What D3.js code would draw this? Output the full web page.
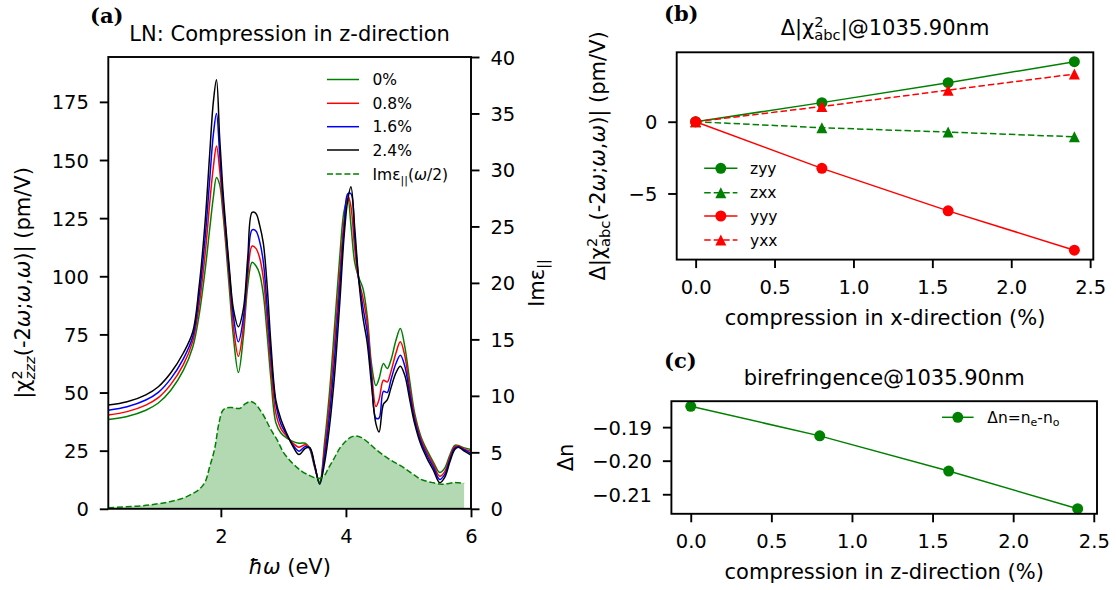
<!DOCTYPE html>
<html>
<head>
<meta charset="utf-8">
<script src="https://cdn.jsdelivr.net/npm/d3@7"></script>
<style>
body { margin: 0; background: #fff; }
svg text { font-family: 'DejaVu Sans', sans-serif; fill: #000; }
</style>
</head>
<body>
<svg id="chart" width="1116" height="590"></svg>
<script>
// (a) |chi2_zzz| for the four strains, on one energy grid (eV)
var energy = [0.2, 0.5, 0.8, 1.0, 1.2, 1.4, 1.55, 1.65, 1.75, 1.82,
    1.88, 1.93, 1.98, 2.03, 2.08, 2.14, 2.2, 2.28, 2.36, 2.43,
    2.5, 2.56, 2.62, 2.68, 2.74, 2.8, 2.88, 2.96, 3.05, 3.15,
    3.25, 3.35, 3.42, 3.5, 3.58, 3.66, 3.74, 3.82, 3.9, 3.97,
    4.03, 4.08, 4.14, 4.2, 4.27, 4.34, 4.41, 4.48, 4.53, 4.6,
    4.66, 4.72, 4.8, 4.87, 4.94, 5.02, 5.1, 5.2, 5.3, 5.4,
    5.5, 5.58, 5.66, 5.74, 5.8, 5.88, 6.0]
var chi0 = [38.4, 39.7, 42.4, 45.5, 51, 59.5, 69.5, 83, 103, 120,
    134, 142.5, 139.5, 128, 113, 93, 74, 58.6, 74, 96,
    106, 104.5, 101, 92, 75, 56, 37, 32.6, 30.5, 29,
    28.2, 28.2, 25.8, 17.8, 11.4, 29, 51, 79, 108, 128,
    133.5, 122, 106, 99.8, 95, 83, 62, 53, 56, 62.5,
    60.3, 64, 72.5, 77.5, 70, 55, 41, 31, 25, 20,
    15.6, 17.5, 23, 27.3, 27.2, 26.3, 25.5]
var chi08 = [40.3, 41.8, 44.6, 47.8, 53.5, 62, 72, 87, 110, 131,
    147, 156, 146, 131, 116, 97, 78.5, 65.6, 78, 100,
    113, 112, 108, 99, 81, 61, 41, 34.5, 31.3, 28.3,
    26.5, 27.5, 26, 18.2, 11, 26, 46, 72, 101, 124,
    134.8, 130, 112, 99, 91, 80, 59, 44, 47, 55.3,
    54.5, 59, 67, 71.8, 66, 52, 39.5, 30, 24, 19,
    14, 16, 22, 26.7, 27, 25.9, 24.7]
var chi16 = [42.4, 43.9, 46.8, 50.1, 56, 64.5, 74, 91, 117, 141,
    161, 170, 153, 134.5, 119, 100, 83, 71.8, 82, 104,
    120, 119.5, 115, 106, 87, 66, 45, 36.5, 32, 27.6,
    24.8, 26.8, 26.2, 18.6, 10.8, 23, 41, 65, 95, 120.5,
    135.5, 135.5, 117, 100, 87, 76, 56, 39, 39, 50.5,
    50, 55.5, 62.5, 66, 61.5, 49.5, 38, 28.8, 22.8, 17.8,
    12.6, 14.8, 21, 26.1, 26.7, 25.5, 23.9]
var chi24 = [44.6, 46, 49, 52.5, 58.5, 67, 76, 95, 124, 152,
    175, 184.5, 160, 138, 121, 102, 86, 78.3, 86, 108,
    127.5, 127, 122, 114, 96, 71, 46.5, 38.5, 32.6, 27,
    23.3, 26, 26.4, 19, 10.6, 20, 36, 58, 88, 117,
    133, 138.5, 121, 100, 82.6, 71.5, 53, 36.5, 33, 45,
    46.8, 52, 58.5, 61.3, 57.5, 47, 36.5, 27.5, 21.5, 16.5,
    11.2, 13.5, 20, 25.5, 26.5, 25, 23.1]
var strainLabels = ['0%', '0.8%', '1.6%', '2.4%']
var strainColors = ['green', 'red', 'blue', 'black']

// Im eps_par(w/2), right axis
var epsEnergy = [0.2, 0.7, 1.0, 1.2, 1.4, 1.55, 1.65, 1.75, 1.82, 1.9,
    1.97, 2.03, 2.1, 2.2, 2.3, 2.38, 2.47, 2.55, 2.62, 2.7,
    2.8, 2.9, 3.0, 3.1, 3.2, 3.3, 3.4, 3.5, 3.58, 3.65,
    3.72, 3.8, 3.9, 4.0, 4.08, 4.16, 4.25, 4.35, 4.45, 4.55,
    4.65, 4.75, 4.85, 4.95, 5.05, 5.13, 5.2, 5.3, 5.4, 5.5,
    5.56, 5.65, 5.74, 5.8, 5.89]
var imEps = [0.1, 0.25, 0.45, 0.65, 0.95, 1.35, 1.7, 2.4, 3.7, 5.3,
    7.6, 8.7, 8.95, 8.95, 8.88, 9.25, 9.5, 9.3, 8.8, 8.1,
    7.0, 6.1, 5.0, 4.3, 3.75, 3.3, 3.0, 2.75, 2.7, 2.9,
    3.6, 4.35, 5.35, 6.0, 6.35, 6.45, 6.3, 5.9, 5.4, 4.95,
    4.55, 4.2, 3.9, 3.55, 3.15, 2.85, 2.6, 2.42, 2.3, 2.2,
    2.18, 2.25, 2.33, 2.3, 2.25]

// (b) change of |chi2_abc| vs compression in x (%)
var compX = [0, 0.8, 1.6, 2.4]
var zyy = [0, 1.33, 2.72, 4.18]
var zxx = [0, -0.42, -0.72, -1.05]
var yyy = [0, -3.25, -6.21, -8.95]
var yxx = [0, 1.06, 2.2, 3.32]

// (c) birefringence vs compression in z (%)
var compZ = [0, 0.8, 1.6, 2.4]
var deltaN = [-0.1838, -0.1926, -0.2031, -0.2143]

var aXTicks = [2, 4, 6]
var aYTicks = [0, 25, 50, 75, 100, 125, 150, 175]
var aY2Ticks = [0, 5, 10, 15, 20, 25, 30, 35, 40]
var pctTicks = [0, 0.5, 1.0, 1.5, 2.0, 2.5]
var bYTicks = [-5, 0]
var cYTicks = [-0.21, -0.20, -0.19]

var svg = d3.select('#chart')
var A = {l: 108.3, r: 471, t: 57, b: 508.8}
var B = {l: 676.7, r: 1093.3, t: 52.3, b: 259.6}
var C = {l: 671.4, r: 1097, t: 401.2, b: 513.8}
var TICK = 19.5, LAB = 21, LEG = 15.5

function minus(s) { return String(s).replace('-', '\u2212') }

function padded(vals) {
    var e = d3.extent(vals), m = (e[1] - e[0]) * 0.05
    return [e[0] - m, e[1] + m]
}

function axis(gen, tx, ty, side) {
    var ax = svg.append('g')
        .attr('transform', 'translate(' + tx + ',' + ty + ')')
        .call(gen.tickSize(8.5).tickSizeOuter(0))
    ax.select('.domain').remove()
    ax.attr('font-family', 'DejaVu Sans').attr('font-size', TICK)
    ax.selectAll('line').attr('stroke', '#000').attr('stroke-width', 1.9)
    ax.selectAll('text').attr('fill', '#000')
    if (side === 'v') ax.selectAll('text').attr('dy', '0.36em')
    return ax
}

function frame(box) {
    svg.append('rect')
        .attr('x', box.l).attr('y', box.t)
        .attr('width', box.r - box.l).attr('height', box.b - box.t)
        .attr('fill', 'none').attr('stroke', '#000').attr('stroke-width', 1.9)
}

function rich(text, parts) {
    parts.forEach(function(p) {
        var o = p[1] || {}
        var t = text.append('tspan').text(p[0])
        if (o.it) t.style('font-style', 'italic')
        if (o.fs) t.style('font-size', o.fs + 'px')
        if (o.dx) t.attr('dx', o.dx)
        if (o.dy) t.attr('dy', o.dy)
    })
    return text
}

function panelLetter(s, x, y) {
    svg.append('text').attr('x', x).attr('y', y)
        .style('font-family', "'DejaVu Serif', serif").style('font-weight', 'bold')
        .attr('font-size', 21).text(s)
}

// ---------- panel (a)
var xa = d3.scaleLinear().domain([0.2, 6]).range([A.l, A.r])
var ya = d3.scaleLinear().domain([0, 194.3]).range([A.b, A.t])
var ya2 = d3.scaleLinear().domain([0, 40]).range([A.b, A.t])

svg.append('clipPath').attr('id', 'clipA').append('rect')
    .attr('x', A.l).attr('y', A.t).attr('width', A.r - A.l).attr('height', A.b - A.t)

var plotA = svg.append('g').attr('clip-path', 'url(#clipA)')
var chiLine = d3.line().curve(d3.curveCatmullRom.alpha(0.5))
    .x(function(d, i) { return xa(energy[i]) })
    .y(function(d) { return ya(d) })

;[chi0, chi08, chi16, chi24].forEach(function(s, i) {
    plotA.append('path').datum(s)
        .attr('d', chiLine)
        .attr('fill', 'none')
        .attr('stroke', strainColors[i])
        .attr('stroke-width', 1.5)
})

var epsArea = d3.area().curve(d3.curveCatmullRom.alpha(0.5))
    .x(function(d, i) { return xa(epsEnergy[i]) })
    .y0(ya2(0))
    .y1(function(d) { return ya2(d) })
var epsLine = d3.line().curve(d3.curveCatmullRom.alpha(0.5))
    .x(function(d, i) { return xa(epsEnergy[i]) })
    .y(function(d) { return ya2(d) })

plotA.append('path').datum(imEps).attr('d', epsArea)
    .attr('fill', 'green').attr('fill-opacity', 0.3)
plotA.append('path').datum(imEps).attr('d', epsLine)
    .attr('fill', 'none').attr('stroke', 'green')
    .attr('stroke-width', 1.5).attr('stroke-dasharray', '6,2.7')

frame(A)
axis(d3.axisBottom(xa).tickValues(aXTicks).tickFormat(d3.format('d')).tickPadding(12.2), 0, A.b)
axis(d3.axisLeft(ya).tickValues(aYTicks).tickPadding(10.9), A.l, 0, 'v')
axis(d3.axisRight(ya2).tickValues(aY2Ticks).tickPadding(10.9), A.r, 0, 'v')

svg.append('text').attr('x', (A.l + A.r) / 2).attr('y', 41)
    .attr('text-anchor', 'middle').attr('font-size', LAB)
    .text('LN: Compression in z-direction')
rich(svg.append('text').attr('x', (A.l + A.r) / 2).attr('y', 574)
    .attr('text-anchor', 'middle').attr('font-size', LAB),
    [['\u0127', {it: 1}], ['\u03c9', {it: 1}], [' (eV)']])
rich(svg.append('text').attr('transform', 'translate(30,' + (A.t + A.b) / 2 + ') rotate(-90)')
    .attr('text-anchor', 'middle').attr('font-size', LAB),
    [['|\u03c7'], ['2', {fs: 14.7, dy: -8}], ['zzz', {fs: 14.7, it: 1, dx: -9.3, dy: 13}],
     ['(-2', {fs: LAB, dy: -5}], ['\u03c9', {it: 1}], [';'], ['\u03c9', {it: 1}], [','],
     ['\u03c9', {it: 1}], [')| (pm/V)']])
rich(svg.append('text').attr('transform', 'translate(544,' + (A.t + A.b) / 2 + ') rotate(-90)')
    .attr('text-anchor', 'middle').attr('font-size', LAB),
    [['Im\u03b5'], ['||', {fs: 14.7, dy: 4}]])

// legend (a)
var legA = svg.append('g').attr('font-size', LEG)
var legRows = [79.5, 103.3, 126.7, 150, 174]
strainLabels.forEach(function(lab, i) {
    legA.append('line').attr('x1', 327).attr('x2', 359)
        .attr('y1', legRows[i]).attr('y2', legRows[i])
        .attr('stroke', strainColors[i]).attr('stroke-width', 1.5)
    legA.append('text').attr('x', 372.5).attr('y', legRows[i]).attr('dy', '0.36em').text(lab)
})
legA.append('line').attr('x1', 327).attr('x2', 359)
    .attr('y1', legRows[4]).attr('y2', legRows[4])
    .attr('stroke', 'green').attr('stroke-width', 1.5).attr('stroke-dasharray', '6,2.7')
rich(legA.append('text').attr('x', 372.5).attr('y', legRows[4]).attr('dy', '0.36em'),
    [['Im\u03b5'], ['||', {fs: 11, dy: 4}], ['(', {fs: LEG, dy: -4}], ['\u03c9', {it: 1}], ['/2)']])

panelLetter('(a)', 90, 23)

// ---------- panel (b)
var xb = d3.scaleLinear().domain(padded(compX)).range([B.l, B.r])
var yb = d3.scaleLinear().domain(padded(zyy.concat(zxx, yyy, yxx))).range([B.b, B.t])

var bSeries = [
    {name: 'zyy', vals: zyy, color: 'green', dash: null, mark: 'o'},
    {name: 'zxx', vals: zxx, color: 'green', dash: '6.5,3', mark: '^'},
    {name: 'yyy', vals: yyy, color: 'red', dash: null, mark: 'o'},
    {name: 'yxx', vals: yxx, color: 'red', dash: '6.5,3', mark: '^'}
]
var tri = 'M0,-5.5L5.5,5.5L-5.5,5.5Z'

function marker(g, kind, x, y, color) {
    if (kind === 'o') {
        g.append('circle').attr('cx', x).attr('cy', y).attr('r', 5.5).attr('fill', color)
    } else {
        g.append('path').attr('d', tri).attr('transform', 'translate(' + x + ',' + y + ')')
            .attr('fill', color)
    }
}

var lineB = d3.line()
    .x(function(d, i) { return xb(compX[i]) })
    .y(function(d) { return yb(d) })

bSeries.forEach(function(s) {
    var g = svg.append('g')
    g.append('path').datum(s.vals).attr('d', lineB)
        .attr('fill', 'none').attr('stroke', s.color).attr('stroke-width', 1.5)
        .attr('stroke-dasharray', s.dash)
    s.vals.forEach(function(v, i) { marker(g, s.mark, xb(compX[i]), yb(v), s.color) })
})

frame(B)
axis(d3.axisBottom(xb).tickValues(pctTicks).tickFormat(d3.format('.1f')).tickPadding(12.2), 0, B.b)
axis(d3.axisLeft(yb).tickValues(bYTicks).tickFormat(function(d) { return minus(d) }).tickPadding(10.9), B.l, 0, 'v')

rich(svg.append('text').attr('x', (B.l + B.r) / 2).attr('y', 35)
    .attr('text-anchor', 'middle').attr('font-size', LAB),
    [['\u0394|\u03c7'], ['2', {fs: 14.7, dy: -8}], ['abc', {fs: 14.7, dx: -9.3, dy: 13}],
     ['|@1035.90nm', {fs: LAB, dy: -5}]])
svg.append('text').attr('x', (B.l + B.r) / 2).attr('y', 325)
    .attr('text-anchor', 'middle').attr('font-size', LAB)
    .text('compression in x-direction (%)')
rich(svg.append('text').attr('transform', 'translate(605,' + (B.t + B.b) / 2 + ') rotate(-90)')
    .attr('text-anchor', 'middle').attr('font-size', LAB),
    [['\u0394|\u03c7'], ['2', {fs: 14.7, dy: -8}], ['abc', {fs: 14.7, dx: -9.3, dy: 13}],
     ['(-2', {fs: LAB, dy: -5}], ['\u03c9', {it: 1}], [';'], ['\u03c9', {it: 1}], [','],
     ['\u03c9', {it: 1}], [')| (pm/V)']])

var legB = svg.append('g').attr('font-size', LEG)
var legBRows = [168.3, 192.7, 216, 240]
bSeries.forEach(function(s, i) {
    legB.append('line').attr('x1', 704.2).attr('x2', 737.4)
        .attr('y1', legBRows[i]).attr('y2', legBRows[i])
        .attr('stroke', s.color).attr('stroke-width', 1.5).attr('stroke-dasharray', s.dash)
    marker(legB, s.mark, 720.8, legBRows[i], s.color)
    legB.append('text').attr('x', 750).attr('y', legBRows[i]).attr('dy', '0.36em').text(s.name)
})

panelLetter('(b)', 664, 21)

// ---------- panel (c)
var xc = d3.scaleLinear().domain(padded(compZ)).range([C.l, C.r])
var yc = d3.scaleLinear().domain(padded(deltaN)).range([C.b, C.t])

var gc = svg.append('g')
gc.append('path').datum(deltaN)
    .attr('d', d3.line().x(function(d, i) { return xc(compZ[i]) }).y(function(d) { return yc(d) }))
    .attr('fill', 'none').attr('stroke', 'green').attr('stroke-width', 1.5)
deltaN.forEach(function(v, i) { marker(gc, 'o', xc(compZ[i]), yc(v), 'green') })

frame(C)
axis(d3.axisBottom(xc).tickValues(pctTicks).tickFormat(d3.format('.1f')).tickPadding(12.2), 0, C.b)
axis(d3.axisLeft(yc).tickValues(cYTicks).tickFormat(function(d) { return minus(d3.format('.2f')(d)) }).tickPadding(10.9), C.l, 0, 'v')

svg.append('text').attr('x', (C.l + C.r) / 2).attr('y', 384.5)
    .attr('text-anchor', 'middle').attr('font-size', LAB)
    .text('birefringence@1035.90nm')
svg.append('text').attr('x', (C.l + C.r) / 2).attr('y', 579)
    .attr('text-anchor', 'middle').attr('font-size', LAB)
    .text('compression in z-direction (%)')
svg.append('text').attr('transform', 'translate(573,' + (C.t + C.b) / 2 + ') rotate(-90)')
    .attr('text-anchor', 'middle').attr('font-size', LAB)
    .text('\u0394n')

var legC = svg.append('g').attr('font-size', LEG)
legC.append('line').attr('x1', 942).attr('x2', 973.6).attr('y1', 417.3).attr('y2', 417.3)
    .attr('stroke', 'green').attr('stroke-width', 1.5)
marker(legC, 'o', 957.8, 417.3, 'green')
rich(legC.append('text').attr('x', 987.3).attr('y', 417.3).attr('dy', '0.36em'),
    [['\u0394n=n'], ['e', {fs: 11, dy: 3}], ['-n', {fs: LEG, dy: -3}], ['o', {fs: 11, dy: 3}]])

panelLetter('(c)', 664, 368)
</script>
</body>
</html>
